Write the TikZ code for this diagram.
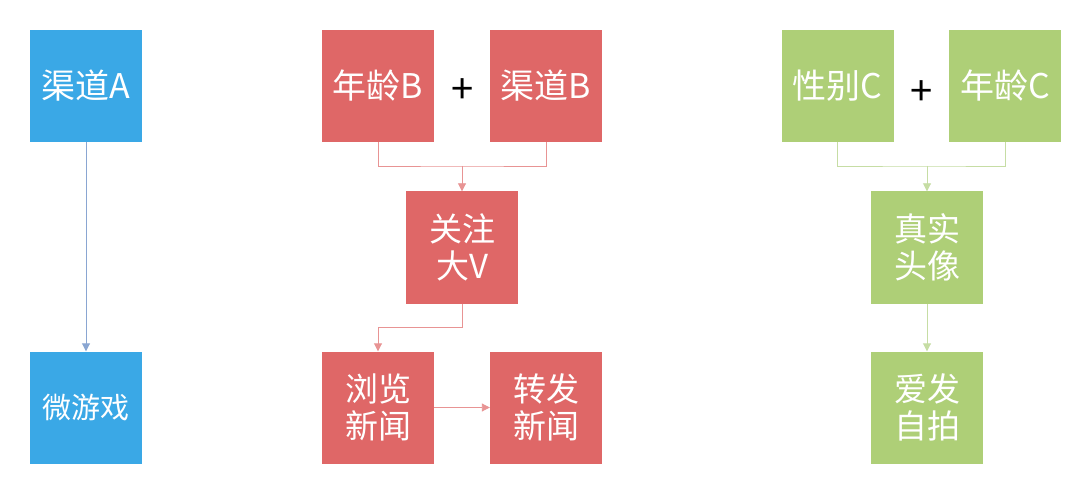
\documentclass[tikz,border=0pt]{standalone}
\usepackage{fontspec}
\setmainfont{Noto Sans CJK SC}
\usetikzlibrary{arrows.meta}
\definecolor{boxblue}{HTML}{3AA8E6}
\definecolor{boxred}{HTML}{DF6767}
\definecolor{boxgreen}{HTML}{AECF77}
\definecolor{lineblue}{HTML}{8AA6D2}
\definecolor{linered}{HTML}{E89494}
\definecolor{linegreen}{HTML}{C6DDA4}
\begin{document}
\begin{tikzpicture}[x=1pt,y=-1pt,
  card/.style={minimum width=112pt,minimum height=112pt,inner sep=0pt,
    text=white,align=center,font=\fontsize{33}{37}\selectfont},
  topcard/.style={font=\fontsize{34}{37}\selectfont},
  bluecard/.style={card,fill=boxblue},
  redcard/.style={card,fill=boxred},
  greencard/.style={card,fill=boxgreen},
  link/.style={line width=0.9pt,-{Triangle[length=8pt,width=8pt]}},
  plus/.style={font=\fontsize{40}{40}\selectfont,text=black}]
\useasboundingbox[fill=white] (0,0) rectangle (1080,492);

% left column
\node[bluecard,topcard] (qa) at (86,86) {渠道A};
\node[bluecard,font=\fontsize{29}{32}\selectfont] (wyx) at (86,407.5) {微游戏};
\draw[link,lineblue] (qa.south) -- (wyx.north);

% middle column
\node[redcard,topcard] (nlb) at (378,86) {年龄B};
\node[redcard,topcard] (qdb) at (546,86) {渠道B};
\node[plus] (pb) at (463,91) {+};
\node[redcard] (gz) at (462,247.5) {关注\\大V};
\node[redcard] (ll) at (378,407.5) {浏览\\新闻};
\node[redcard] (zf) at (546,407.5) {转发\\新闻};
\coordinate (jb) at (462,166);
\coordinate (kb) at (462,327);
\draw[line width=0.9pt,linered] (nlb.south) |- (jb) -| (qdb.south);
\draw[link,linered] (jb) -- (gz.north);
\draw[link,linered] (gz.south) |- (kb) -| (ll.north);
\draw[link,linered] (ll.east) -- (zf.west);

% right column
\node[greencard,topcard] (xbc) at (837.5,86) {性别C};
\node[greencard,topcard] (nlc) at (1005,86) {年龄C};
\node[plus] (pc) at (922,93) {+};
\node[greencard] (zs) at (927,247.5) {真实\\头像};
\node[greencard] (af) at (927,407.5) {爱发\\自拍};
\coordinate (jc) at (927,166);
\draw[line width=0.9pt,linegreen] (xbc.south) |- (jc) -| (nlc.south);
\draw[link,linegreen] (jc) -- (zs.north);
\draw[link,linegreen] (zs.south) -- (af.north);
\end{tikzpicture}
\end{document}
